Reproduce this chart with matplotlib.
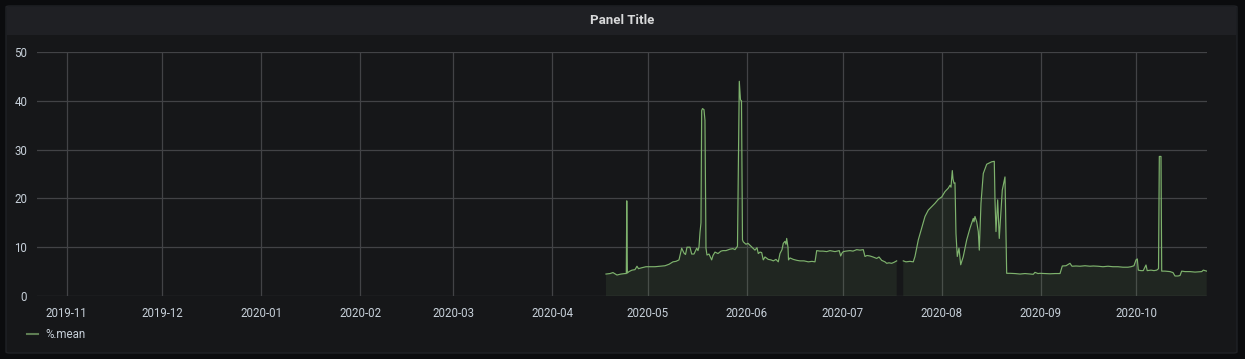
import matplotlib
matplotlib.use("Agg")
import matplotlib.pyplot as plt
import matplotlib.dates as mdates
from matplotlib.patches import FancyBboxPatch, Rectangle
import numpy as np
import pandas as pd

# ---- data: days since 2020-04-01 and series values ----
base_date = "2020-04-01"
day_offsets = [
    16.90, 18.15, 19.09, 20.34, 21.60, 22.85, 23.26, 23.41, 23.60,
    24.10, 25.04, 25.98, 26.61, 27.08, 28.17, 29.43, 30.68, 32.25, 33.81,
    35.38, 36.63, 37.88, 38.82, 39.76, 40.61, 41.33, 41.80, 42.27, 43.21,
    43.74, 44.46, 45.31, 45.71, 46.03, 46.34, 46.65, 46.87, 47.12, 47.59,
    47.90, 48.22, 48.53, 49.16, 50.00, 50.41, 51.04, 51.98, 52.92, 53.54,
    54.48, 55.73, 56.67, 57.30, 57.83, 58.08, 58.65, 59.02, 59.34, 59.65,
    59.90, 60.75, 61.37, 62.00, 62.62, 63.56, 64.19, 64.60, 65.13, 65.66,
    66.16, 66.70, 67.73, 68.58, 69.30, 70.14, 70.86, 71.39, 72.02, 72.43,
    72.96, 73.27, 73.49, 73.90, 74.06, 74.53, 75.56, 76.72, 77.66, 78.91,
    80.26, 81.41, 82.36, 82.89, 83.92, 84.86, 86.02, 87.05, 88.62, 89.96,
    90.40, 90.81, 91.22, 92.06, 93.32, 94.26, 95.42, 96.45, 97.48, 98.01,
    98.64, 99.58, 100.52, 101.68, 102.40, 103.25, 104.28, 104.81, 105.53,
    106.38, 107.10, 107.94,
    109.00,
    110.01, 110.86, 112.11, 113.14, 113.67, 114.71, 115.77, 116.81, 117.84,
    118.90, 119.94, 120.97, 122.04, 123.07, 124.10, 124.64, 124.95, 125.36,
    125.58, 125.89, 126.20, 126.51, 126.92, 127.45, 127.99, 128.80, 129.87,
    130.90, 131.93, 132.15, 132.46, 133.00, 133.50, 133.81, 134.34, 135.06,
    136.13, 137.69, 138.51, 138.73, 139.04, 139.57, 140.07, 141.01, 141.86,
    142.39, 143.43, 144.99, 146.56, 148.12, 149.69, 150.72, 151.25, 152.19,
    152.82, 154.39, 155.95, 157.52, 159.09, 159.81, 160.96, 162.22, 162.84,
    164.10, 165.35, 166.92, 168.48, 169.52, 170.99, 172.55, 174.12, 175.68,
    177.25, 178.82, 180.38, 181.32, 182.26, 182.89, 183.30, 183.61, 184.45,
    185.17, 186.02, 186.40, 187.59, 188.53, 189.37, 189.94, 190.19, 190.72,
    190.94, 191.97, 193.54, 194.48, 195.10, 196.04, 196.67, 197.20, 198.23,
    199.80, 201.37, 203.46, 203.97, 205.03,
]
values = [
    4.5, 4.6, 4.8, 4.3, 4.5, 4.6, 4.6, 19.5, 4.7,
    5.0, 5.3, 5.4, 6.1, 5.6, 5.8, 6.0, 6.0, 6.0, 6.1,
    6.2, 6.5, 7.0, 7.1, 7.4, 9.8, 8.8, 8.5, 10.0, 10.0,
    8.6, 8.6, 9.8, 9.3, 10.1, 13.0, 15.0, 38.0, 38.4, 38.2,
    36.0, 9.8, 8.4, 8.6, 7.4, 8.3, 9.0, 8.7, 9.2, 9.3,
    9.3, 9.6, 9.7, 9.5, 10.0, 10.2, 44.0, 40.2, 40.0, 11.5,
    11.1, 10.6, 10.8, 10.4, 10.0, 9.4, 9.9, 8.7, 9.0, 8.9,
    7.4, 8.0, 7.5, 7.4, 7.2, 7.5, 7.0, 8.7, 9.5, 10.8,
    11.2, 10.6, 11.8, 10.0, 7.4, 7.8, 7.5, 7.3, 7.2, 7.2,
    7.0, 7.1, 7.0, 9.3, 9.2, 9.2, 9.1, 9.3, 9.1, 9.3,
    8.2, 8.8, 9.1, 9.2, 9.3, 9.2, 9.5, 9.4, 9.5, 8.1,
    8.3, 8.2, 8.0, 7.7, 8.0, 7.3, 7.0, 6.7, 6.8,
    6.7, 6.9, 7.2,
    np.nan,
    7.2, 7.0, 7.1, 7.0, 8.1, 11.5, 13.9, 16.3, 17.6,
    18.3, 19.0, 19.8, 20.3, 21.4, 22.1, 22.7, 22.3, 25.7,
    24.0, 23.1, 23.2, 12.8, 8.1, 9.8, 6.4, 8.1, 11.5,
    13.9, 15.9, 15.2, 16.3, 15.2, 13.2, 9.4, 19.0, 25.1,
    27.0, 27.5, 27.6, 19.7, 13.2, 19.7, 11.8, 21.7, 24.4,
    4.65, 4.65, 4.6, 4.5, 4.6, 4.5, 4.45, 4.85, 4.6,
    4.65, 4.6, 4.55, 4.6, 4.6, 6.15, 6.2, 6.7, 6.1,
    6.15, 6.1, 6.2, 6.1, 6.15, 6.1, 6.0, 6.1, 6.0,
    6.0, 5.9, 5.9, 6.0, 6.2, 7.4, 7.6, 5.3, 5.2,
    5.2, 6.35, 5.2, 5.3, 5.2, 5.3, 5.6, 28.6, 28.6,
    5.1, 5.1, 5.0, 4.8, 4.1, 4.1, 4.2, 5.1, 5.0,
    5.0, 4.9, 5.0, 5.3, 5.1,
]
series_name = "%.mean"
title = "Panel Title"
x_start = "2019-10-22 17:00"
x_end = "2020-10-23 03:00"
y_ticks = [0, 10, 20, 30, 40, 50]

times = pd.Timestamp(base_date) + pd.to_timedelta(day_offsets, unit="D")
vals = np.array(values, dtype=float)

# ---- style ----
W, H = 1245, 359
outer_bg = "#0b0c0e"
panel_bg = "#161719"
header_bg = "#1f2024"
grid_c = "#424346"
text_c = "#c7d0d9"
line_c = "#7eb26d"

fig = plt.figure(figsize=(W / 100, H / 100), dpi=100)
fig.patch.set_facecolor(outer_bg)

def fx(px):
    return px / W

def fy(py):
    return 1 - py / H

# panel body
fig.patches.append(FancyBboxPatch((fx(6), fy(353)), fx(1231), (347) / H,
                                  boxstyle="round,pad=0,rounding_size=0.003",
                                  transform=fig.transFigure, facecolor=panel_bg,
                                  edgecolor="#202226", linewidth=1, zorder=-3))
# header band
fig.patches.append(Rectangle((fx(7), fy(35)), fx(1229), 28 / H,
                             transform=fig.transFigure, facecolor=header_bg,
                             edgecolor="none", zorder=-2))
fig.text(0.5, fy(20), title, ha="center", va="center", color="#d8d9da",
         fontsize=9.5, fontweight="bold", family="Roboto")

ax = fig.add_axes([fx(37), fy(296), fx(1170), 244 / H])
ax.set_zorder(2)
ax.set_facecolor("none")
ax.plot(times, vals, color=line_c, linewidth=0.85, zorder=3)
ax.fill_between(times, vals, 0, where=~np.isnan(vals), color=line_c, alpha=0.10,
                linewidth=0, zorder=2, interpolate=False)

ax.set_xlim(pd.Timestamp(x_start), pd.Timestamp(x_end))
ax.set_ylim(0, 50)
ax.set_yticks(y_ticks)
ax.xaxis.set_major_locator(mdates.MonthLocator())
ax.xaxis.set_major_formatter(mdates.DateFormatter("%Y-%m"))
ax.grid(True, color=grid_c, linewidth=0.9, zorder=1)
ax.set_axisbelow(True)
for s in ax.spines.values():
    s.set_visible(False)
ax.tick_params(axis="both", length=0, colors=text_c, labelsize=8.3)
ax.tick_params(axis="y", pad=7)
ax.tick_params(axis="x", pad=8)
for lab in ax.get_xticklabels() + ax.get_yticklabels():
    lab.set_family("Roboto")

# legend
fig.lines.append(plt.Line2D([fx(27), fx(38)], [fy(334), fy(334)],
                            transform=fig.transFigure, color="#5e7d53", linewidth=1.5))
fig.text(fx(45), fy(334), series_name, ha="left", va="center", color=text_c,
         fontsize=8.3, family="Roboto")

fig.savefig("out.png", dpi=100, facecolor=outer_bg)
